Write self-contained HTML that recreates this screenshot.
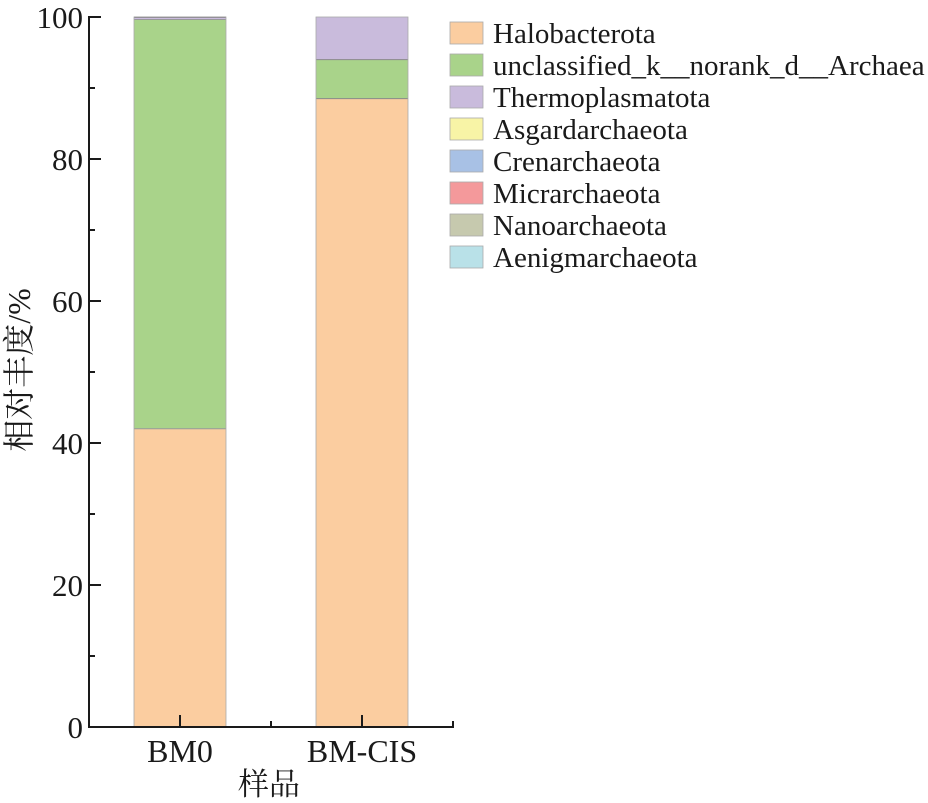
<!DOCTYPE html>
<html>
<head>
<meta charset="utf-8">
<style>
html,body{margin:0;padding:0;background:#fff;}
svg{display:block;}
text{font-family:"Liberation Serif","Noto Serif CJK SC","Noto Sans CJK SC",serif;fill:#1a1a1a;}
</style>
</head>
<body>
<svg width="928" height="803" viewBox="0 0 928 803" xmlns="http://www.w3.org/2000/svg">
  <!-- Bar BM0 -->
  <rect x="134" y="428.8" width="92" height="298.2" fill="#FBCDA0"/>
  <rect x="134" y="19.8" width="92" height="409" fill="#A9D38A"/>
  <rect x="134" y="17" width="92" height="2.8" fill="#C9BBDC"/>
  <line x1="134" y1="17.2" x2="226" y2="17.2" stroke="#555" stroke-width="1.2"/>
  <line x1="134" y1="19.5" x2="226" y2="19.5" stroke="#999" stroke-width="1"/>
  <line x1="134" y1="428.8" x2="226" y2="428.8" stroke="#999" stroke-width="1"/>
  <rect x="134" y="17" width="92" height="710" fill="none" stroke="#aaa" stroke-width="0.8"/>

  <!-- Bar BM-CIS -->
  <rect x="316" y="98.6" width="92" height="628.4" fill="#FBCDA0"/>
  <rect x="316" y="59.6" width="92" height="39" fill="#A9D38A"/>
  <rect x="316" y="17" width="92" height="42.6" fill="#C9BBDC"/>
  <line x1="316" y1="59.6" x2="408" y2="59.6" stroke="#8a8a8a" stroke-width="1"/>
  <line x1="316" y1="98.6" x2="408" y2="98.6" stroke="#8a8a8a" stroke-width="1"/>
  <rect x="316" y="17" width="92" height="710" fill="none" stroke="#aaa" stroke-width="0.8"/>

  <!-- Axes -->
  <g stroke="#1a1a1a" stroke-width="2" fill="none">
    <line x1="89" y1="16" x2="89" y2="728"/>
    <line x1="88" y1="727" x2="454" y2="727"/>
    <!-- y major ticks -->
    <line x1="89" y1="17" x2="101" y2="17"/>
    <line x1="89" y1="159" x2="101" y2="159"/>
    <line x1="89" y1="301" x2="101" y2="301"/>
    <line x1="89" y1="443" x2="101" y2="443"/>
    <line x1="89" y1="585" x2="101" y2="585"/>
    <line x1="89" y1="727" x2="101" y2="727"/>
    <!-- y minor ticks -->
    <line x1="89" y1="88" x2="95" y2="88"/>
    <line x1="89" y1="230" x2="95" y2="230"/>
    <line x1="89" y1="372" x2="95" y2="372"/>
    <line x1="89" y1="514" x2="95" y2="514"/>
    <line x1="89" y1="656" x2="95" y2="656"/>
    <!-- x ticks -->
    <line x1="180" y1="727" x2="180" y2="715"/>
    <line x1="362" y1="727" x2="362" y2="715"/>
    <line x1="271" y1="727" x2="271" y2="721"/>
    <line x1="453" y1="727" x2="453" y2="721"/>
  </g>

  <!-- y tick labels -->
  <g font-size="31" text-anchor="end">
    <text x="83" y="28">100</text>
    <text x="83" y="170">80</text>
    <text x="83" y="312">60</text>
    <text x="83" y="454">40</text>
    <text x="83" y="596">20</text>
    <text x="83" y="738">0</text>
  </g>

  <!-- x tick labels -->
  <g font-size="32" text-anchor="middle">
    <text x="180" y="762">BM0</text>
    <text x="362" y="762">BM-CIS</text>
  </g>

  <!-- axis titles -->
  <text x="269" y="795" font-size="31" text-anchor="middle" font-family="'Noto Serif CJK SC','Noto Sans CJK SC',serif">样品</text>
  <text transform="translate(30,370) rotate(-90)" font-size="32" text-anchor="middle"><tspan font-family="'Noto Serif CJK SC','Noto Sans CJK SC',serif">相对丰度</tspan>/%</text>

  <!-- Legend -->
  <g stroke="#aaa" stroke-width="0.8">
    <rect x="450" y="22" width="33" height="22" fill="#FBCDA0"/>
    <rect x="450" y="54" width="33" height="22" fill="#A9D38A"/>
    <rect x="450" y="86" width="33" height="22" fill="#C9BBDC"/>
    <rect x="450" y="118" width="33" height="22" fill="#F8F4A6"/>
    <rect x="450" y="150" width="33" height="22" fill="#A8C1E5"/>
    <rect x="450" y="182" width="33" height="22" fill="#F4999B"/>
    <rect x="450" y="214" width="33" height="22" fill="#C6C9AE"/>
    <rect x="450" y="246" width="33" height="22" fill="#B9E1E8"/>
  </g>
  <g font-size="29">
    <text x="493" y="43">Halobacterota</text>
    <text x="493" y="75">unclassified_k__norank_d__Archaea</text>
    <text x="493" y="107">Thermoplasmatota</text>
    <text x="493" y="139">Asgardarchaeota</text>
    <text x="493" y="171">Crenarchaeota</text>
    <text x="493" y="203">Micrarchaeota</text>
    <text x="493" y="235">Nanoarchaeota</text>
    <text x="493" y="267">Aenigmarchaeota</text>
  </g>
</svg>
</body>
</html>
